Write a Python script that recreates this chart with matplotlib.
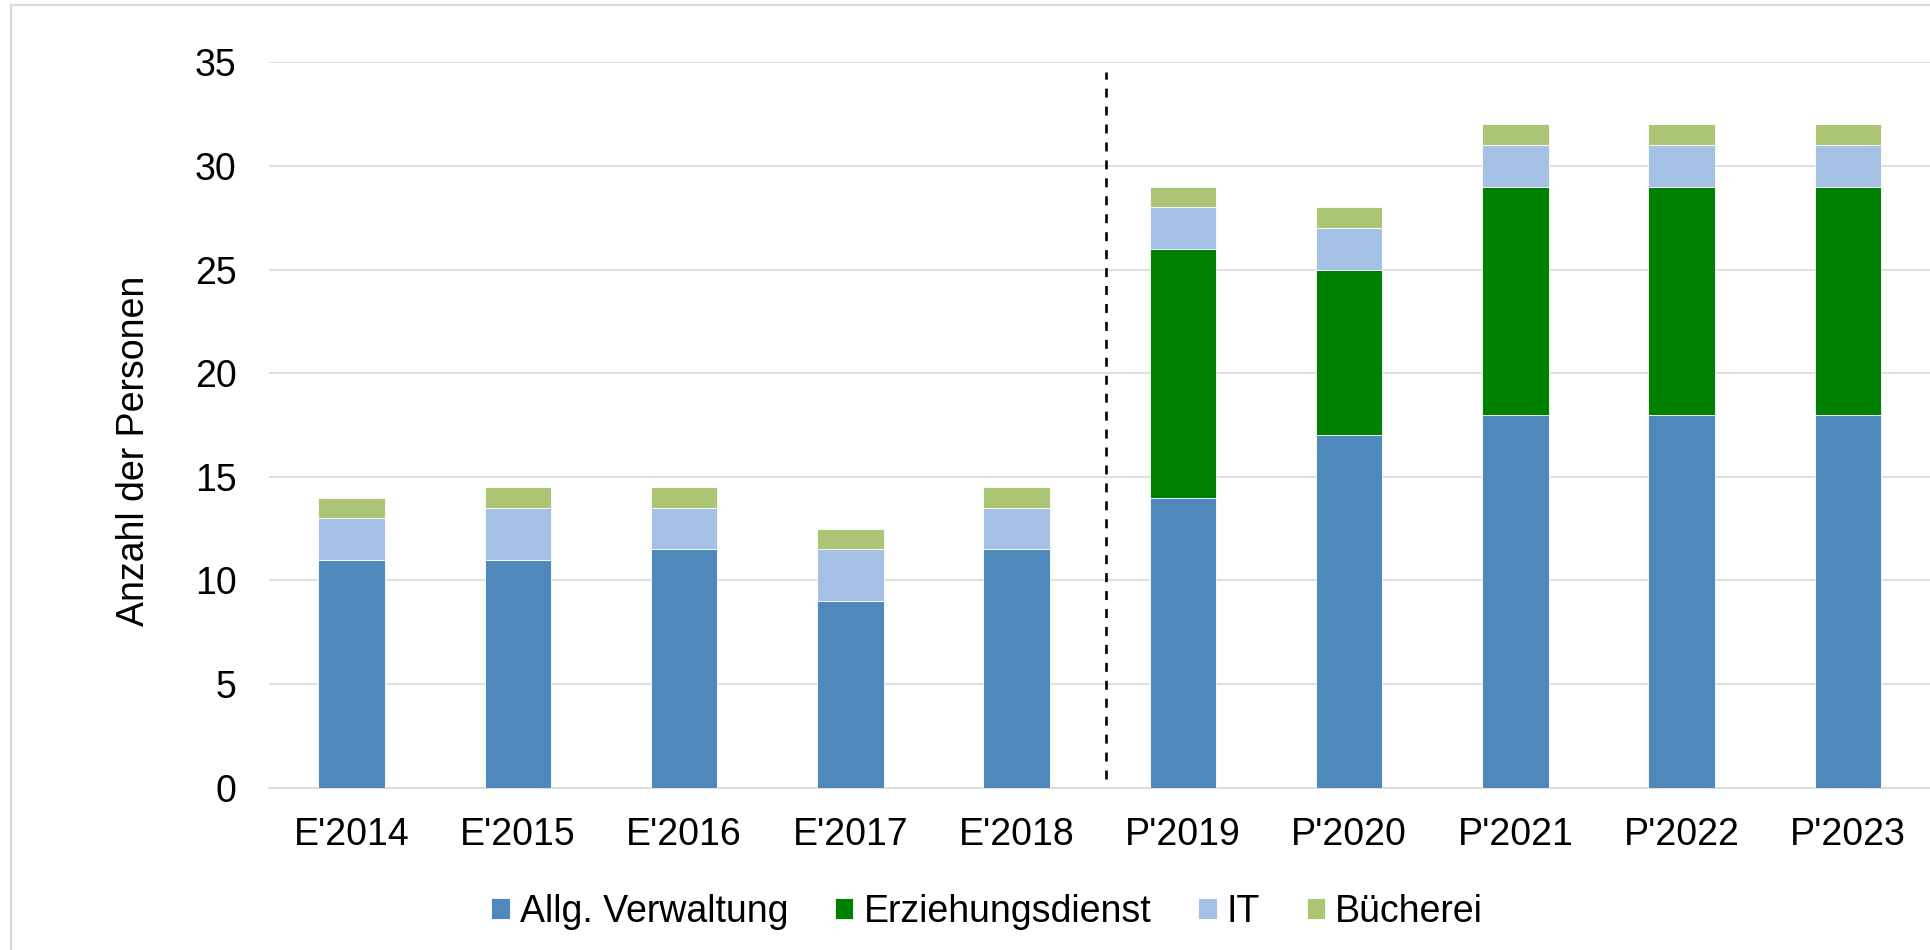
import matplotlib
matplotlib.use("Agg")
import matplotlib.pyplot as plt
from matplotlib.patches import Rectangle
import numpy as np

plt.rcParams['font.family'] = ['Liberation Sans', 'DejaVu Sans']

years = ["E'2014", "E'2015", "E'2016", "E'2017", "E'2018",
         "P'2019", "P'2020", "P'2021", "P'2022", "P'2023"]
verwaltung = [11, 11, 11.5, 9, 11.5, 14, 17, 18, 18, 18]
erziehung = [0, 0, 0, 0, 0, 12, 8, 11, 11, 11]
it = [2, 2.5, 2, 2.5, 2, 2, 2, 2, 2, 2]
buecherei = [1, 1, 1, 1, 1, 1, 1, 1, 1, 1]
series_names = ["Allg. Verwaltung", "Erziehungsdienst", "IT", "Bücherei"]
colors = ["#4F88BB", "#008000", "#A4C0E4", "#ABC574"]

fig = plt.figure(figsize=(19.31, 9.5), dpi=100)
ax = fig.add_axes([0.1391, 0.1708, 0.8609, 0.7636])

x = np.arange(len(years))
bottom = np.zeros(len(years))
for vals, name, col in zip([verwaltung, erziehung, it, buecherei], series_names, colors):
    vals = np.array(vals, dtype=float)
    ax.bar(x, vals, 0.4, bottom=bottom, color=col, label=name,
           edgecolor='white', linewidth=0.6, zorder=3)
    bottom += vals

# divider between actuals (E) and plan (P)
ax.plot([4.54, 4.54], [0.42, 34.54], color='black', lw=1.9,
        ls=(0, (3.4, 3.4)), zorder=4)

ax.set_xlim(-0.5, 9.5)
ax.set_ylim(0, 35)
ax.set_yticks(range(0, 36, 5))
ax.set_xticks(x)
ax.set_xticklabels(years)
ax.grid(axis='y', color='#D9D9D9', lw=1.2, zorder=0)
for s in ['top', 'right', 'left']:
    ax.spines[s].set_visible(False)
ax.spines['bottom'].set_color('#D9D9D9')
ax.spines['bottom'].set_linewidth(1.2)
ax.tick_params(axis='both', length=0, labelsize=27)
ax.tick_params(axis='y', pad=23)
ax.tick_params(axis='x', pad=21)

ax.set_ylabel("Anzahl der Personen", fontsize=27)
ax.yaxis.set_label_coords(-0.070, 0.465)

fig.legend(loc='center', bbox_to_anchor=(987 / 1931, 1 - 912 / 950),
           ncol=4, frameon=False, fontsize=27, handlelength=0.5,
           handleheight=0.5, handletextpad=0.27, columnspacing=1.24)

# outer chart border
fig.patches.append(Rectangle((11 / 1931, -0.1), 1.1, 1.1 - 5 / 950,
                             transform=fig.transFigure, fill=False,
                             edgecolor='#D9D9D9', lw=1.5))

fig.savefig("out.png", dpi=100)
